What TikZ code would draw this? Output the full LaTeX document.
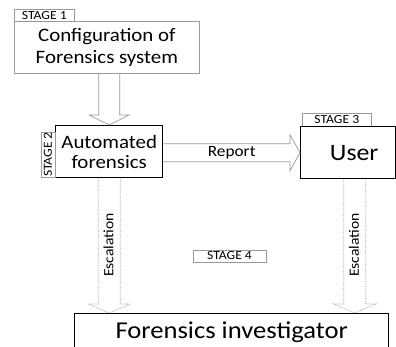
\documentclass[tikz,border=0pt]{standalone}
\usepackage{fontspec}
\setmainfont{Carlito}[FakeStretch=1.1]
\usetikzlibrary{calc}
\definecolor{edgegray}{HTML}{9A9A9A}

% hollow block arrows: style, start point, tip, half shaft, half head, head length
\newcommand\hollowdown[6]{%
  \draw[#1] ($(#2)+(-#4,0)$) -- ($(#3)+(-#4,-#6)$) -- ($(#3)+(-#5,-#6)$) -- (#3)
    -- ($(#3)+(#5,-#6)$) -- ($(#3)+(#4,-#6)$) -- ($(#2)+(#4,0)$);}
\newcommand\hollowright[6]{%
  \draw[#1] ($(#2)+(0,-#4)$) -- ($(#3)+(-#6,-#4)$) -- ($(#3)+(-#6,-#5)$) -- (#3)
    -- ($(#3)+(-#6,#5)$) -- ($(#3)+(-#6,#4)$) -- ($(#2)+(0,#4)$);}

\tikzset{
  box/.style={draw=black, line width=1.4pt, fill=white, inner sep=0pt, align=center},
  softbox/.style={draw=edgegray, line width=0.8pt, fill=white, inner sep=0pt, align=center},
  tag/.style={draw=edgegray, line width=0.7pt, fill=white, inner sep=0pt,
    font=\fontsize{12.4}{12.5}\selectfont},
  hollow/.style={draw=edgegray, line width=0.7pt, line join=miter},
  dothollow/.style={hollow, densely dotted},
  lbl/.style={inner sep=0pt},
}

\begin{document}
\begin{tikzpicture}[x=1pt, y=-1pt]
  \fill[white] (0,0) rectangle (396,347);
  \useasboundingbox (0,0) rectangle (396,347);

  % stage 1
  \node[tag, minimum width=60pt, minimum height=12pt, anchor=north west] (tag1) at (14,9) {STAGE 1};
  \node[softbox, minimum width=185pt, minimum height=52pt, anchor=north west,
        font=\fontsize{19}{22}\selectfont] (config) at (14,21) {Configuration of\\Forensics system};

  % stage 2
  \node[box, minimum width=107pt, minimum height=52pt, anchor=north west,
        font=\fontsize{19}{20}\selectfont] (auto) at (55,125) {Automated\\forensics};
  \node[tag, rotate=90, minimum width=45pt, minimum height=14pt] (tag2) at (48,154.5) {STAGE 2};

  % stage 3
  \node[tag, minimum width=69pt, minimum height=13pt, anchor=north west] (tag3) at (302,113) {STAGE 3};
  \node[box, minimum width=95pt, minimum height=52pt, anchor=north west,
        font=\fontsize{23.5}{24}\selectfont] (user) at (300,126) {\hspace*{12pt}User};

  % stage 4
  \node[tag, minimum width=73pt, minimum height=12pt] (tag4) at (229.5,256) {STAGE 4};
  \node[box, minimum width=314pt, minimum height=38pt, anchor=north west,
        font=\fontsize{24.2}{25}\selectfont] (inv) at (74,313) {Forensics investigator};

  % connectors
  \coordinate (cfgfoot) at (auto.north |- config.south);
  \hollowdown{hollow}{cfgfoot}{auto.north}{10.5}{20}{10}

  \coordinate (repstart) at (auto.east |- user.west);
  \hollowright{hollow}{repstart}{user.west}{9}{18}{10}
  \node[lbl, font=\fontsize{15.7}{16}\selectfont] (report) at ($(repstart)!0.5!(user.west)$) {Report};

  \coordinate (escLtip) at (auto.south |- inv.north);
  \hollowdown{dothollow}{auto.south}{escLtip}{11}{21}{9}
  \node[lbl, rotate=90, font=\fontsize{14.2}{15}\selectfont] (escL) at (108.5,245) {Escalation};

  \coordinate (escRtop) at ($(user.south)+(6.5,0)$);
  \coordinate (escRtip) at (escRtop |- inv.north);
  \hollowdown{dothollow}{escRtop}{escRtip}{11}{21}{9}
  \node[lbl, rotate=90, font=\fontsize{14.2}{15}\selectfont] (escR) at (354,245) {Escalation};
\end{tikzpicture}
\end{document}
